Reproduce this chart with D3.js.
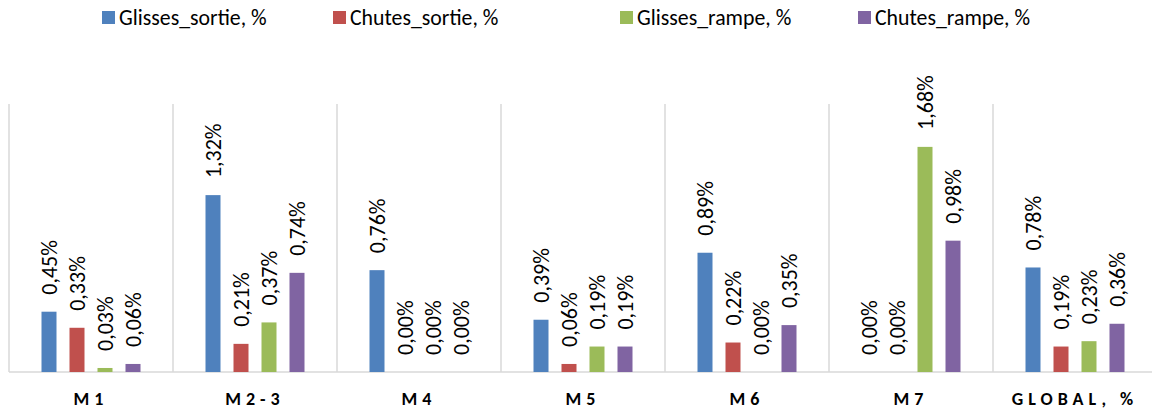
<!DOCTYPE html>
<html>
<head>
<meta charset="utf-8">
<script src="https://cdn.jsdelivr.net/npm/d3@7"></script>
<style>
  html, body { margin: 0; padding: 0; background: #fff; }
  svg { display: block; font-family: Calibri, Carlito, Lato, sans-serif; }
</style>
</head>
<body>
<div id="chart"></div>
<script>
// categories and series
const categories = ['M1', 'M2-3', 'M4', 'M5', 'M6', 'M7', 'GLOBAL, %'];
const seriesNames = ['Glisses_sortie, %', 'Chutes_sortie, %', 'Glisses_rampe, %', 'Chutes_rampe, %'];
const seriesColors = ['#4f81bd', '#c0504d', '#9bbb59', '#8064a2'];

// values in %
const glissesSortie = [0.45, 1.32, 0.76, 0.39, 0.89, 0.00, 0.78];
const chutesSortie  = [0.33, 0.21, 0.00, 0.06, 0.22, 0.00, 0.19];
const glissesRampe  = [0.03, 0.37, 0.00, 0.19, 0.00, 1.68, 0.23];
const chutesRampe   = [0.06, 0.74, 0.00, 0.19, 0.35, 0.98, 0.36];
const seriesValues = [glissesSortie, chutesSortie, glissesRampe, chutesRampe];

const yDomain = [0, 2];

const width = 1152, height = 411;
const margin = { top: 104, left: 9, bottom: 39 };
const catWidth = 164;

const svg = d3.select('#chart')
  .append('svg')
  .attr('width', width)
  .attr('height', height);

const x0 = d3.scaleBand()
  .domain(categories)
  .range([margin.left, margin.left + catWidth * categories.length]);

const x1 = d3.scaleBand()
  .domain(seriesNames)
  .range([26, x0.bandwidth() - 26])
  .paddingInner(0.4643)
  .paddingOuter(0.2321);

const y = d3.scaleLinear()
  .domain(yDomain)
  .range([height - margin.bottom, margin.top]);

const fmt = v => d3.format('.2f')(v).replace('.', ',') + '%';

// vertical separators between categories
svg.append('g')
  .selectAll('line')
  .data(categories.concat(['end']))
  .enter().append('line')
  .attr('x1', (d, i) => margin.left + i * x0.step())
  .attr('x2', (d, i) => margin.left + i * x0.step())
  .attr('y1', y(yDomain[1]))
  .attr('y2', y(0))
  .attr('stroke', '#d9d9d9')
  .attr('stroke-width', 1.5);

// baseline
svg.append('line')
  .attr('x1', margin.left)
  .attr('x2', width)
  .attr('y1', y(0))
  .attr('y2', y(0))
  .attr('stroke', '#d9d9d9')
  .attr('stroke-width', 1.5);

// bars
const rows = [];
categories.forEach((c, ci) => {
  seriesNames.forEach((s, si) => {
    rows.push({ cat: c, series: s, value: seriesValues[si][ci], color: seriesColors[si] });
  });
});

const groups = svg.append('g')
  .selectAll('g')
  .data(rows)
  .enter().append('g');

groups.append('rect')
  .attr('x', d => x0(d.cat) + x1(d.series))
  .attr('width', x1.bandwidth())
  .attr('y', d => y(d.value))
  .attr('height', d => y(0) - y(d.value))
  .attr('fill', d => d.color);

// value labels, rotated
groups.append('text')
  .attr('transform', d => `translate(${x0(d.cat) + x1(d.series) + x1.bandwidth() / 2},${y(d.value) - 17}) rotate(-90)`)
  .attr('dy', '0.36em')
  .attr('text-anchor', 'start')
  .attr('font-size', '22px')
  .attr('fill', '#000')
  .text(d => fmt(d.value));

// category labels
svg.append('g')
  .selectAll('text')
  .data(categories)
  .enter().append('text')
  .attr('x', d => x0(d) + x0.bandwidth() / 2)
  .attr('y', 405)
  .attr('text-anchor', 'middle')
  .attr('font-size', '18px')
  .attr('font-weight', 'bold')
  .attr('letter-spacing', '5px')
  .attr('fill', '#000')
  .text(d => d);

// legend
const legendX = [102, 333, 620, 858];
const legend = svg.append('g')
  .selectAll('g')
  .data(seriesNames)
  .enter().append('g')
  .attr('transform', (d, i) => `translate(${legendX[i]},11)`);

legend.append('rect')
  .attr('width', 13)
  .attr('height', 13)
  .attr('fill', (d, i) => seriesColors[i]);

legend.append('text')
  .attr('x', 17)
  .attr('y', 14)
  .attr('font-size', '21.8px')
  .attr('fill', '#000')
  .text(d => d);
</script>
</body>
</html>
